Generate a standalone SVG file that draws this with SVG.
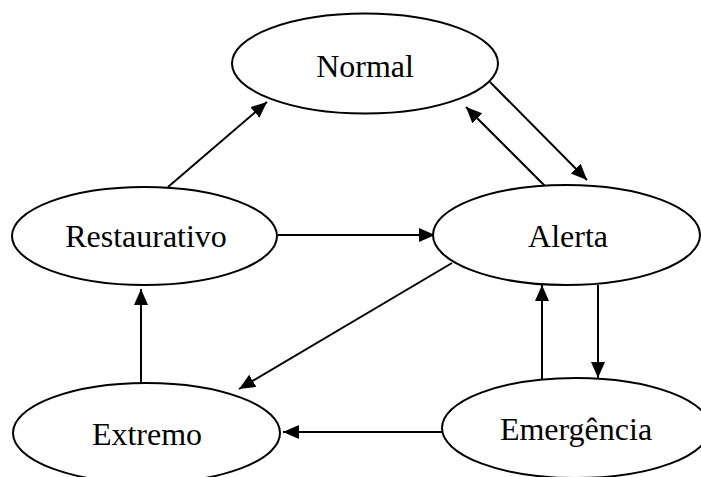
<svg xmlns="http://www.w3.org/2000/svg" width="701" height="477" viewBox="0 0 701 477">
  <style>
    .node ellipse { fill: #ffffff; stroke: #000000; stroke-width: 2; }
    .node text { font-family: "Liberation Serif", "Times New Roman", serif; font-size: 32px; fill: #000000; text-anchor: middle; }
    .edge { stroke: #000000; stroke-width: 2; fill: none; marker-end: url(#arrow); }
  </style>
  <defs>
    <marker id="arrow" markerUnits="userSpaceOnUse" markerWidth="17" markerHeight="15" refX="16" refY="7" orient="auto">
      <path d="M0,0 L16,7 L0,14 z" fill="#000000"/>
    </marker>
  </defs>
  <rect width="701" height="477" fill="#ffffff"/>
  <g id="connectors">
    <line class="edge" x1="168" y1="187" x2="267" y2="102"/>
    <line class="edge" x1="490" y1="82" x2="587" y2="180"/>
    <line class="edge" x1="545" y1="186" x2="466" y2="107"/>
    <line class="edge" x1="278" y1="235" x2="435" y2="235"/>
    <line class="edge" x1="452" y1="263" x2="239" y2="389"/>
    <line class="edge" x1="141" y1="383" x2="141" y2="289"/>
    <line class="edge" x1="542" y1="380" x2="542" y2="285"/>
    <line class="edge" x1="598" y1="285" x2="598" y2="378"/>
    <line class="edge" x1="442" y1="432" x2="283" y2="432"/>
  </g>
  <g id="normal" class="node">
    <ellipse cx="365" cy="63.5" rx="133" ry="50"/>
    <text x="365" y="77">Normal</text>
  </g>
  <g id="restaurativo" class="node">
    <ellipse cx="144.5" cy="236" rx="132.5" ry="49"/>
    <text x="146" y="247">Restaurativo</text>
  </g>
  <g id="alerta" class="node">
    <ellipse cx="566.5" cy="235" rx="133.5" ry="50"/>
    <text x="568" y="247">Alerta</text>
  </g>
  <g id="extremo" class="node">
    <ellipse cx="146.5" cy="433" rx="133.5" ry="50"/>
    <text x="147" y="445">Extremo</text>
  </g>
  <g id="emergencia" class="node">
    <ellipse cx="576" cy="428" rx="134" ry="50"/>
    <text x="576" y="440">Emergência</text>
  </g>
</svg>
